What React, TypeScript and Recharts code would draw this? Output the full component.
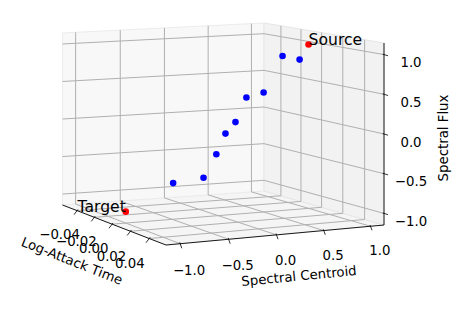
import React from 'react';
import { ScatterChart, Scatter, XAxis, YAxis, Customized } from 'recharts';

const W = 462;
const H = 317;

// ---- data ----
const endpointNames = ['Target', 'Source'];
const endpointLogAttack = [0, 0];
const endpointCentroid = [-1, 1];
const endpointFlux = [-1, 1];

const pathLogAttack = [0, 0, 0, 0, 0, 0, 0, 0, 0];
const pathCentroid = [-0.49, -0.16, -0.02, 0.08, 0.19, 0.31, 0.5, 0.71, 0.9];
const pathFlux = [-0.68, -0.64, -0.35, -0.09, 0.05, 0.36, 0.41, 0.87, 0.81];

const logAttackTicks = [-0.04, -0.02, 0, 0.02, 0.04];
const logAttackTickLabels = ['\u22120.04', '\u22120.02', '0.00', '0.02', '0.04'];
const centroidTicks = [-1, -0.5, 0, 0.5, 1];
const centroidTickLabels = ['\u22121.0', '\u22120.5', '0.0', '0.5', '1.0'];
const fluxTicks = [-1, -0.5, 0, 0.5, 1];
const fluxTickLabels = ['\u22121.0', '\u22120.5', '0.0', '0.5', '1.0'];

// ---- axis limits ----
const LAT_LIM = [-0.0573, 0.0573];
const CEN_LIM = [-1.146, 1.146];
const FLUX_LIM = [-1.146, 1.146];

// ---- view (projected box, vertical edges: screen x, bottom y, height) ----
const BOX = {
  backLeft: { x: 62.5, yb: 205, h: 172 },
  backRight: { x: 264, yb: 191, h: 168 },
  frontRight: { x: 384, yb: 225, h: 182 },
  frontLeft: { x: 166, yb: 245, h: 187 },
};

function project(lat: number, cen: number, flux: number) {
  const u = (cen - CEN_LIM[0]) / (CEN_LIM[1] - CEN_LIM[0]);
  const v = (lat - LAT_LIM[0]) / (LAT_LIM[1] - LAT_LIM[0]);
  const t = (flux - FLUX_LIM[0]) / (FLUX_LIM[1] - FLUX_LIM[0]);
  const cs: [typeof BOX.backLeft, number][] = [
    [BOX.backLeft, (1 - u) * (1 - v)],
    [BOX.backRight, u * (1 - v)],
    [BOX.frontRight, u * v],
    [BOX.frontLeft, (1 - u) * v],
  ];
  let sw = 0, sx = 0, sy = 0;
  for (const [c, b] of cs) {
    const w = b / c.h;
    sw += w;
    sx += w * c.x;
    sy += w * (c.yb - t * c.h);
  }
  return { x: sx / sw, y: sy / sw };
}

const FONT = '"DejaVu Sans", sans-serif';
const GRID = '#b0b0b0';
const TICK_FS = 13.3;
const NOTE_FS = 15.6;

const blueData = pathCentroid.map((c, i) => {
  const p = project(pathLogAttack[i], c, pathFlux[i]);
  return { px: p.x, py: p.y };
});
const redData = endpointCentroid.map((c, i) => {
  const p = project(endpointLogAttack[i], c, endpointFlux[i]);
  return { px: p.x, py: p.y, name: endpointNames[i] };
});

const LABEL_ANCHOR: Record<string, string> = { Target: 'end', Source: 'start' };

const [l0, l1] = LAT_LIM;
const [c0, c1] = CEN_LIM;
const [f0, f1] = FLUX_LIM;

function poly(pts: { x: number; y: number }[]) {
  return pts.map((p) => `${p.x.toFixed(2)},${p.y.toFixed(2)}`).join(' ');
}

function Seg({ a, b, stroke = GRID, sw = 1 }: any) {
  return <line x1={a.x} y1={a.y} x2={b.x} y2={b.y} stroke={stroke} strokeWidth={sw} />;
}

function Background() {
  const backPane = [project(l0, c0, f0), project(l0, c1, f0), project(l0, c1, f1), project(l0, c0, f1)];
  const rightPane = [project(l0, c1, f0), project(l1, c1, f0), project(l1, c1, f1), project(l0, c1, f1)];
  const bottomPane = [project(l0, c0, f0), project(l0, c1, f0), project(l1, c1, f0), project(l1, c0, f0)];
  const lines: JSX.Element[] = [];
  let k = 0;
  centroidTicks.forEach((c) => {
    lines.push(<Seg key={k++} a={project(l0, c, f0)} b={project(l0, c, f1)} />);
    lines.push(<Seg key={k++} a={project(l0, c, f0)} b={project(l1, c, f0)} />);
  });
  fluxTicks.forEach((f) => {
    lines.push(<Seg key={k++} a={project(l0, c0, f)} b={project(l0, c1, f)} />);
    lines.push(<Seg key={k++} a={project(l0, c1, f)} b={project(l1, c1, f)} />);
  });
  logAttackTicks.forEach((l) => {
    lines.push(<Seg key={k++} a={project(l, c1, f0)} b={project(l, c1, f1)} />);
    lines.push(<Seg key={k++} a={project(l, c0, f0)} b={project(l, c1, f0)} />);
  });

  const texts: JSX.Element[] = [];
  logAttackTicks.forEach((l, i) => {
    const v = (l - l0) / (l1 - l0);
    const p = project(l, c0, f0);
    const ox = -17 + (-19.8 + 17) * v;
    const oy = 23.4 + (25.5 - 23.4) * v;
    texts.push(<line key={k++} x1={p.x - 0.05 * ox} y1={p.y - 0.05 * oy} x2={p.x + 0.17 * ox} y2={p.y + 0.17 * oy} stroke="#000" strokeWidth={0.8} />);
    texts.push(<text key={k++} x={p.x + ox} y={p.y + oy} textAnchor="middle" dominantBaseline="central" fontSize={TICK_FS} fontFamily={FONT} fill="#000">{logAttackTickLabels[i]}</text>);
  });
  centroidTicks.forEach((c, i) => {
    const u = (c - c0) / (c1 - c0);
    const p = project(l1, c, f0);
    const ox = 8.8 + (9.5 - 8.8) * u;
    const oy = 27.3 + (23.8 - 27.3) * u;
    texts.push(<line key={k++} x1={p.x - 0.05 * ox} y1={p.y - 0.05 * oy} x2={p.x + 0.17 * ox} y2={p.y + 0.17 * oy} stroke="#000" strokeWidth={0.8} />);
    texts.push(<text key={k++} x={p.x + ox} y={p.y + oy} textAnchor="middle" dominantBaseline="central" fontSize={TICK_FS} fontFamily={FONT} fill="#000">{centroidTickLabels[i]}</text>);
  });
  fluxTicks.forEach((f, i) => {
    const p = project(l1, c1, f);
    const ox = 27, oy = 8;
    texts.push(<line key={k++} x1={p.x - 0.05 * ox} y1={p.y - 0.05 * oy} x2={p.x + 0.15 * ox} y2={p.y + 0.15 * oy} stroke="#000" strokeWidth={0.8} />);
    texts.push(<text key={k++} x={p.x + ox} y={p.y + oy} textAnchor="middle" dominantBaseline="central" fontSize={TICK_FS} fontFamily={FONT} fill="#000">{fluxTickLabels[i]}</text>);
  });

  return (
    <g>
      <rect x={0} y={0} width={W} height={H} fill="#ffffff" />
      <polygon points={poly(bottomPane)} fill="#f5f5f5" stroke="#ececec" strokeWidth={1} />
      <polygon points={poly(backPane)} fill="#f8f8f8" stroke="#ececec" strokeWidth={1} />
      <polygon points={poly(rightPane)} fill="#f2f2f2" stroke="#e6e6e6" strokeWidth={1} />
      {lines}
      <Seg a={project(l0, c0, f0)} b={project(l1, c0, f0)} stroke="#000" sw={0.9} />
      <Seg a={project(l1, c0, f0)} b={project(l1, c1, f0)} stroke="#000" sw={0.9} />
      <Seg a={project(l1, c1, f0)} b={project(l1, c1, f1)} stroke="#000" sw={0.9} />
      {texts}
      <text x={72} y={261} textAnchor="middle" dominantBaseline="central" fontSize={TICK_FS} fontFamily={FONT} fill="#000" transform="rotate(21.5 72 261)">Log-Attack Time</text>
      <text x={299} y={276} textAnchor="middle" dominantBaseline="central" fontSize={TICK_FS} fontFamily={FONT} fill="#000" transform="rotate(-5.5 299 276)">Spectral Centroid</text>
      <text x={443} y={138} textAnchor="middle" dominantBaseline="central" fontSize={TICK_FS} fontFamily={FONT} fill="#000" transform="rotate(-90 443 138)">Spectral Flux</text>
    </g>
  );
}

function RedShape(props: any) {
  const { cx, cy, payload } = props;
  const anchor = LABEL_ANCHOR[payload.name] || 'start';
  return (
    <g>
      <circle cx={cx} cy={cy} r={3.3} fill="#ff0000" />
      <text x={cx} y={cy} textAnchor={anchor} fontSize={NOTE_FS} fontFamily={FONT} fill="#000">{payload.name}</text>
    </g>
  );
}

function BlueShape(props: any) {
  const { cx, cy } = props;
  return <circle cx={cx} cy={cy} r={3.3} fill="#0000ff" />;
}

export default function App() {
  return (
    <div style={{ position: 'absolute', left: 0, top: 0, width: W, height: H, background: '#fff' }}>
      <ScatterChart width={W} height={H} margin={{ top: 0, right: 0, bottom: 0, left: 0 }}>
        <XAxis type="number" dataKey="px" domain={[0, W]} hide allowDataOverflow />
        <YAxis type="number" dataKey="py" domain={[0, H]} reversed hide allowDataOverflow />
        <Customized component={<Background />} />
        <Scatter data={blueData} shape={<BlueShape />} isAnimationActive={false} />
        <Scatter data={redData} shape={<RedShape />} isAnimationActive={false} />
      </ScatterChart>
    </div>
  );
}
